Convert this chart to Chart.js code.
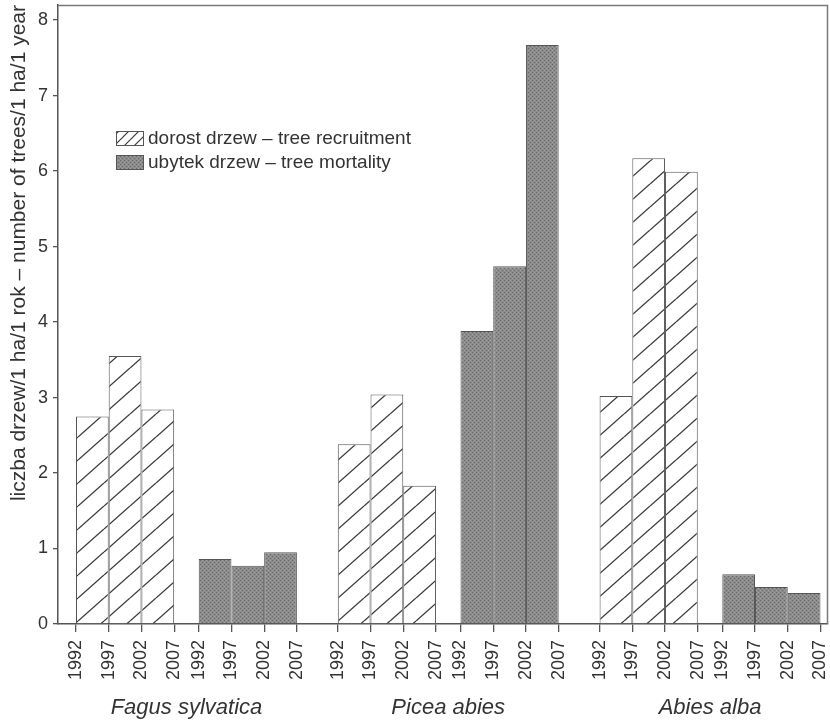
<!DOCTYPE html>
<html><head><meta charset="utf-8">
<script src="https://cdn.jsdelivr.net/npm/chart.js@4.4.1/dist/chart.umd.min.js"></script>
<style>html,body{margin:0;padding:0;background:#fff}#wrap{width:830px;height:723px;position:relative}</style>
</head><body><div id="wrap"><canvas id="c" width="830" height="723"></canvas></div>
<script>
// ---- data ----
const species = ['Fagus sylvatica', 'Picea abies', 'Abies alba'];
const years = ['1992', '1997', '2002', '2007'];
const recruitment = [2.75, 3.55, 2.84, 2.38, 3.04, 1.83, 3.02, 6.17, 5.99];
const mortality = [0.86, 0.77, 0.95, 3.88, 4.74, 7.67, 0.66, 0.49, 0.41];
const yTickValues = [0, 1, 2, 3, 4, 5, 6, 7, 8];
const seriesLabels = ['dorost drzew – tree recruitment', 'ubytek drzew – tree mortality'];
const yTitle = 'liczba drzew/1 ha/1 rok – number of trees/1 ha/1 year';

// ---- layout (positions on a linear x scale) ----
const SERIES_GAP = 0.75, SPECIES_STEP = 8, X_MIN = -0.55, X_MAX = 22.98;
const barsPerGroup = years.length - 1;
function groupStart(s, series) { return s * SPECIES_STEP + series * (barsPerGroup + SERIES_GAP); }

const tickPos = [], tickLab = [];
species.forEach((sp, s) => {
  [0, 1].forEach(series => {
    years.forEach((y, i) => { tickPos.push(groupStart(s, series) + i); tickLab.push(y); });
  });
});
function barPoints(values, series) {
  return values.map((v, k) => {
    const s = Math.floor(k / barsPerGroup), j = k % barsPerGroup;
    return { x: groupStart(s, series) + j + 0.5, y: v };
  });
}

// ---- patterns ----
function hatchPattern(W, H, lw) {
  const c = document.createElement('canvas'); c.width = W; c.height = H;
  const g = c.getContext('2d');
  g.fillStyle = '#fff'; g.fillRect(0, 0, W, H);
  g.strokeStyle = '#3a3a3a'; g.lineWidth = lw;
  [-1, 0, 1].forEach(k => {
    g.beginPath(); g.moveTo(0, H + k * H); g.lineTo(W, k * H); g.stroke();
  });
  return document.createElement('canvas').getContext('2d').createPattern(c, 'repeat');
}
function stipplePattern() {
  const c = document.createElement('canvas'); c.width = 4; c.height = 4;
  const g = c.getContext('2d');
  g.fillStyle = '#8c8c8c'; g.fillRect(0, 0, 4, 4);
  g.fillStyle = '#676767'; g.fillRect(0, 0, 1, 1); g.fillRect(2, 2, 1, 1);
  g.fillStyle = '#a0a0a0'; g.fillRect(2, 0, 1, 1); g.fillRect(0, 2, 1, 1);
  return document.createElement('canvas').getContext('2d').createPattern(c, 'repeat');
}
const hatch = hatchPattern(26, 23, 1.3);
const hatchSmall = hatchPattern(10, 10, 1.2);
const stipple = stipplePattern();
const FONT = "'Liberation Sans', Arial, Helvetica, sans-serif";

const decor = {
  id: 'decor',
  afterDraw(chart) {
    const ctx = chart.ctx, a = chart.chartArea, xs = chart.scales.x;
    ctx.save();
    // frame top/right
    ctx.strokeStyle = '#7a7a7a'; ctx.lineWidth = 1.5;
    ctx.beginPath(); ctx.moveTo(a.left, a.top + 0.5); ctx.lineTo(a.right - 0.5, a.top + 0.5); ctx.lineTo(a.right - 0.5, a.bottom); ctx.stroke();
    // legend
    const fills = [hatchSmall, stipple];
    const ys = [131, 155];
    ctx.font = '19px ' + FONT; ctx.textBaseline = 'middle'; ctx.textAlign = 'left';
    seriesLabels.forEach((t, i) => {
      ctx.fillStyle = fills[i]; ctx.fillRect(116, ys[i], 28, 15);
      ctx.strokeStyle = '#555'; ctx.lineWidth = 1; ctx.strokeRect(116.5, ys[i] + 0.5, 27, 14);
      ctx.fillStyle = '#333'; ctx.fillText(t, 148, ys[i] + 8);
    });
    // species labels
    ctx.font = 'italic 22px ' + FONT; ctx.textAlign = 'center';
    species.forEach((sp, s) => {
      const cx = (groupStart(s, 0) + groupStart(s, 1) + barsPerGroup) / 2;
      ctx.fillText(sp, xs.getPixelForValue(cx), 708);
    });
    ctx.restore();
  }
};

new Chart(document.getElementById('c'), {
  type: 'bar',
  data: {
    datasets: [
      { label: seriesLabels[0], data: barPoints(recruitment, 0), backgroundColor: hatch, borderColor: '#555', borderWidth: 1 },
      { label: seriesLabels[1], data: barPoints(mortality, 1), backgroundColor: stipple, borderColor: '#555', borderWidth: 1 }
    ]
  },
  options: {
    responsive: false, animation: false, devicePixelRatio: 1,
    layout: { padding: { top: 5, right: 2, left: 0, bottom: 0 } },
    // smallest tick gap is SERIES_GAP units, so scale bars back up to one unit wide
    datasets: { bar: { grouped: false, barPercentage: 1 / SERIES_GAP, categoryPercentage: 1 } },
    plugins: { legend: { display: false }, tooltip: { enabled: false } },
    scales: {
      x: {
        type: 'linear', position: 'bottom', min: X_MIN, max: X_MAX, offset: false,
        afterBuildTicks: sc => { sc.ticks = tickPos.map(v => ({ value: v })); },
        afterFit: sc => { sc.height = 99; sc.paddingLeft = 0; sc.paddingRight = 0; },
        ticks: {
          autoSkip: false, minRotation: 90, maxRotation: 90, padding: 8,
          color: '#333', font: { family: FONT, size: 18 },
          callback: (v, i) => tickLab[i]
        },
        grid: { display: true, offset: false, drawOnChartArea: false, drawTicks: true, tickLength: 8, color: '#555', lineWidth: 1.3 },
        border: { display: true, color: '#555', width: 1.5 }
      },
      y: {
        type: 'linear', min: 0, max: 8.2,
        afterBuildTicks: sc => { sc.ticks = yTickValues.map(v => ({ value: v })); },
        afterFit: sc => { sc.width = 58; sc.paddingTop = 0; sc.paddingBottom = 0; },
        ticks: { color: '#333', font: { family: FONT, size: 18 }, padding: 5 },
        grid: { display: true, drawOnChartArea: false, drawTicks: true, tickLength: 5, color: '#555', lineWidth: 1.3 },
        border: { display: true, color: '#555', width: 1.5 },
        title: { display: true, text: yTitle, align: 'end', color: '#333', font: { family: FONT, size: 21 }, padding: { top: 7, bottom: 0 } }
      }
    }
  },
  plugins: [decor]
});
</script></body></html>
